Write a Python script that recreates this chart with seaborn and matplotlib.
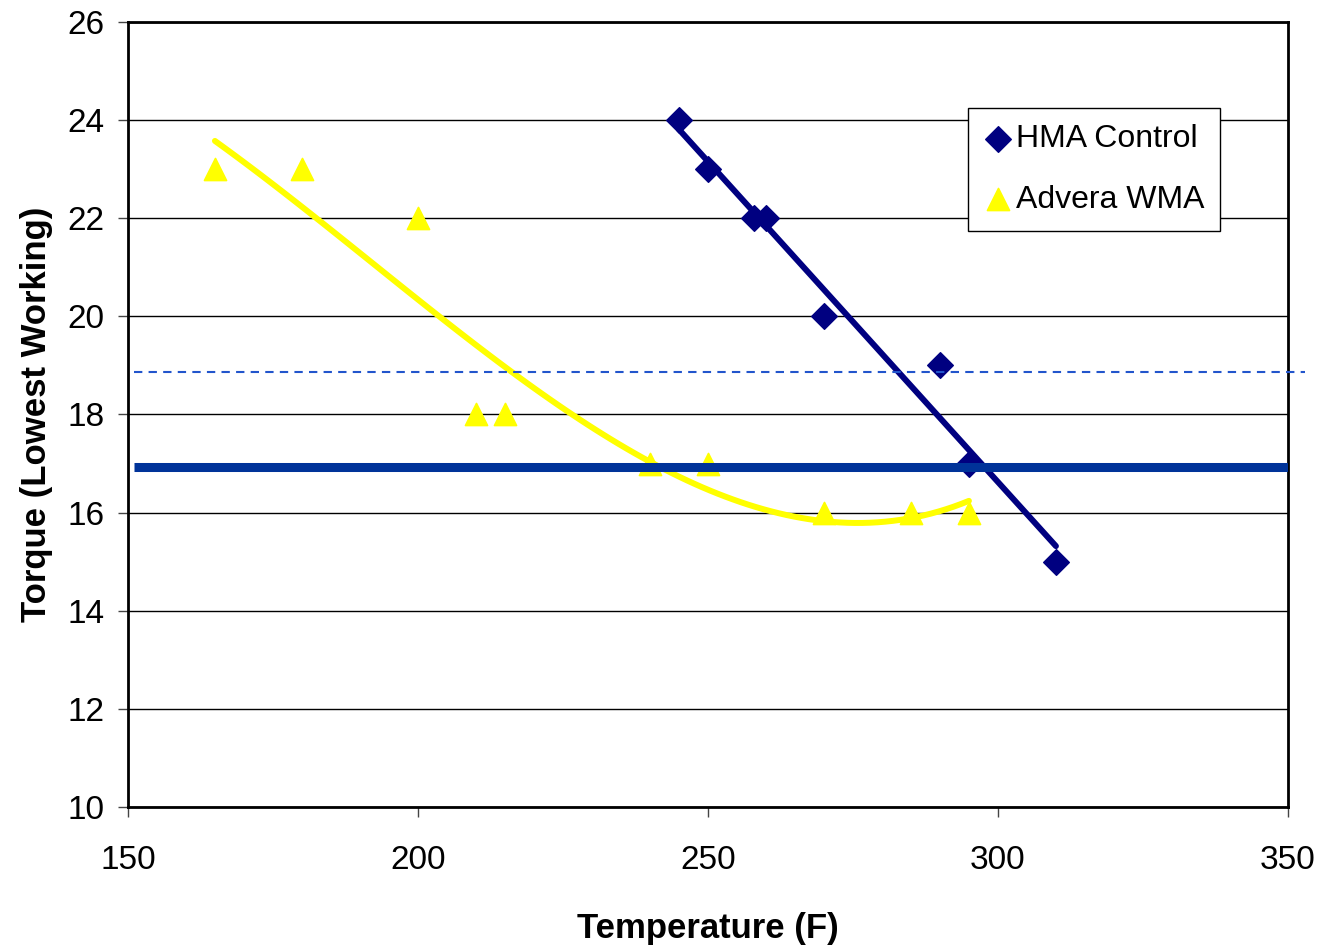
import numpy as np
import pandas as pd
import matplotlib.pyplot as plt
import seaborn as sns

# HMA Control
hma_temp = [245, 250, 258, 260, 270, 290, 295, 310]
hma_torque = [24, 23, 22, 22, 20, 19, 17, 15]

# Advera WMA
wma_temp = [165, 180, 200, 210, 215, 240, 250, 270, 285, 295]
wma_torque = [23, 23, 22, 18, 18, 17, 17, 16, 16, 16]

# reference levels
solid_level = 16.92
dashed_level = 18.86

hma = pd.DataFrame({'Temperature': hma_temp, 'Torque': hma_torque})
wma = pd.DataFrame({'Temperature': wma_temp, 'Torque': wma_torque})

sns.set_style('white')
plt.rcParams['font.family'] = ['Liberation Sans', 'DejaVu Sans']
plt.rcParams['text.color'] = 'black'

fig = plt.figure(figsize=(13.23, 9.51), dpi=100)
ax = fig.add_axes([0.0967, 0.1514, 0.8768, 0.8255])

navy = '#000080'
yellow = '#FFFF00'

# trendlines
sns.regplot(data=hma, x='Temperature', y='Torque', scatter=False, ci=None,
            truncate=True, color=navy, line_kws={'lw': 4.3, 'zorder': 3}, ax=ax)
sns.regplot(data=wma, x='Temperature', y='Torque', scatter=False, ci=None, order=3,
            truncate=True, color=yellow, line_kws={'lw': 4.3, 'zorder': 3}, ax=ax)

# points
sns.scatterplot(data=hma, x='Temperature', y='Torque', marker='D', s=170,
                color=navy, edgecolor=navy, label='HMA Control', zorder=4, ax=ax)
sns.scatterplot(data=wma, x='Temperature', y='Torque', marker='^', s=250,
                color=yellow, edgecolor=yellow, label='Advera WMA', zorder=4, ax=ax)

# horizontal reference lines
ax.plot([151, 350], [solid_level, solid_level], color='#003399', lw=6.5, zorder=5,
        solid_capstyle='butt')
ax.plot([151, 353], [dashed_level, dashed_level], color='#2255CC', lw=1.5,
        ls=(0, (4, 3)), zorder=5, clip_on=False)

ax.set_xlim(150, 350)
ax.set_ylim(10, 26)
ax.set_xticks(range(150, 351, 50))
ax.set_yticks(range(10, 27, 2))
ax.yaxis.grid(True, color='black', lw=1)
ax.xaxis.grid(False)
ax.set_axisbelow(True)

for s in ax.spines.values():
    s.set_visible(True)
    s.set_color('black')
    s.set_linewidth(2)

ax.tick_params(axis='both', direction='out', length=7, width=1, color='#444444',
               labelsize=24, labelcolor='black', pad=10, left=True, bottom=True)
ax.tick_params(axis='x', pad=20)

ax.set_xlabel('Temperature (F)', fontsize=25, fontweight='bold', labelpad=26, color='black')
ax.set_ylabel('Torque (Lowest Working)', fontsize=25, fontweight='bold', labelpad=10,
              color='black')

leg = ax.legend(loc='upper left', bbox_to_anchor=(0.724, 0.89), fontsize=23,
                frameon=True, fancybox=False, edgecolor='black', framealpha=1,
                handletextpad=0.1, labelspacing=0.95, borderpad=0.5,
                handlelength=0.9, borderaxespad=0)
leg.get_frame().set_linewidth(1)

fig.savefig('out.png', dpi=100)
